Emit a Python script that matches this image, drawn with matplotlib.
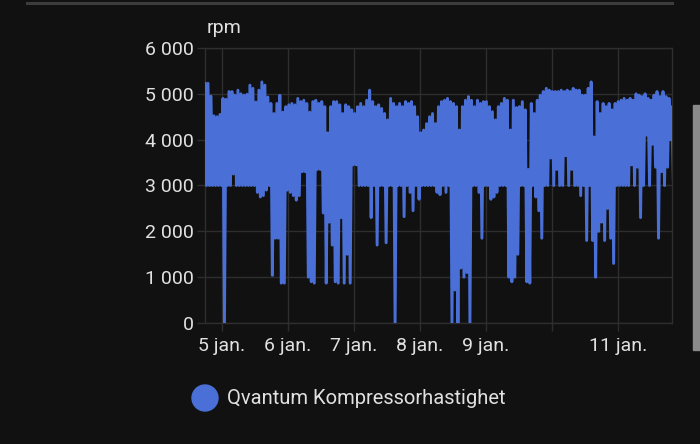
import numpy as np
import matplotlib
matplotlib.use("Agg")
import matplotlib.pyplot as plt
from matplotlib.patches import Ellipse, Rectangle
from matplotlib.lines import Line2D

# compressor speed (rpm); one high/low pair per sample
rpm_high = [
    5230, 5230, 4950, 4520, 4500, 4550, 4900, 4880, 5050, 5050, 4970, 5080, 5000, 4970, 4990, 5190,
    5120, 4820, 5080, 5260, 5190, 4930, 4790, 4570, 4790, 4970, 4600, 4720, 4760, 4790, 4760,
    4900, 4830, 4860, 4790, 4600, 4830, 4860, 4790, 4830, 4720, 4150, 4720, 4830, 4830, 4760, 4570,
    4760, 4720, 4650, 4570, 4720, 4790, 4720, 4860, 5080, 4830, 4720, 4760, 4680, 4570, 4430,
    4900, 4790, 4720, 4790, 4720, 4830, 4790, 4830, 4720, 4500, 4150, 4210, 4350, 4500, 4570, 4350,
    4720, 4830, 4860, 4900, 4830, 4790, 4720, 4210, 4720, 4860, 4940, 4860, 4720, 4860, 4790,
    4830, 4830, 4720, 4610, 4430, 4720, 4790, 4900, 4860, 4210, 4860, 4700, 4720, 4830, 4650, 3350,
    4790, 4570, 4860, 4970, 5050, 5120, 5080, 5050, 5050, 5050, 5080, 5050, 5080, 5050, 5120,
    5080, 5080, 4970, 4970, 5120, 5260, 4060, 4830, 4570, 4790, 4720, 4790, 4650, 4790, 4830, 4860,
    4900, 4860, 4900, 4860, 5000, 4970, 4940, 5000, 4900, 4860, 4970, 5050, 4940, 5050, 4940, 4900,
    4720,
]
rpm_low = [
    3000, 3000, 3000, 3000, 3000, 3000, 0, 3000, 3000, 3250, 3000, 3000, 3000, 3000, 3000, 3000,
    3000, 2850, 2750, 2780, 2900, 3000, 1040, 1850, 1850, 870, 870, 2900, 2850, 2780, 2680,
    2780, 3300, 3300, 1000, 900, 870, 3350, 3350, 2400, 870, 2200, 1700, 900, 870, 2300, 870,
    1500, 870, 3450, 3450, 3000, 3000, 3000, 3000, 2300, 3000, 1700, 3000, 3000, 1750, 3000,
    3000, 0, 3000, 3000, 2320, 3000, 2850, 2450, 3000, 2700, 3000, 3000, 3000, 3000, 3000, 2850,
    2800, 3000, 2850, 3000, 0, 720, 0, 1200, 1000, 1100, 0, 3000, 3000, 2850, 1850,
    3000, 3000, 2700, 2750, 2850, 3000, 3000, 3000, 1000, 900, 1000, 1500, 3000, 3000, 900, 870,
    3000, 2750, 2450, 1850, 3000, 3000, 3600, 3000, 3350, 3000, 3000, 3650, 3000, 3350, 3000,
    3000, 2780, 3000, 1800, 3000, 1800, 1000, 2000, 2200, 1800, 2500, 1850, 1300, 3000, 3000, 3000,
    3000, 3000, 3450, 3000, 3400, 2300, 3000, 4100, 3000, 3900, 3400, 1850, 3300, 3000, 3400, 4000,
    3000,
]
day_labels = ["5 jan.", "6 jan.", "7 jan.", "8 jan.", "9 jan.", "", "11 jan."]
y_ticks = [0, 1000, 2000, 3000, 4000, 5000, 6000]
series_name = "Qvantum Kompressorhastighet"
unit = "rpm"

BG = "#111111"
GRID = "#2e2e2e"
TXT = "#e1e1e1"
BLUE = "#4a6fd6"

plt.rcParams["font.family"] = ["Roboto", "DejaVu Sans"]

# samples are evenly spaced in time, days counted from 5 jan. 00:00
t0, t1 = -0.2576, 6.818
t = np.linspace(t0, t1, len(rpm_high))
step = t[1] - t[0]
times = np.empty(2 * len(t))
vals = np.empty(2 * len(t))
times[0::2] = t
times[1::2] = t + step / 2
vals[0::2] = rpm_high
vals[1::2] = rpm_low

fig = plt.figure(figsize=(7, 4.44), dpi=100, facecolor=BG)
ax = fig.add_axes([205 / 700, 121 / 444, 467 / 700, 275 / 444])
ax.set_facecolor(BG)

ax.plot(times, vals, color=BLUE, lw=2.1, solid_joinstyle="round", zorder=3)

ax.set_xlim(t0, t1)
ax.set_ylim(0, 6000)
ax.set_yticks(y_ticks)
ax.set_yticklabels([f"{v:,}".replace(",", " ") for v in y_ticks])
ax.set_xticks(range(len(day_labels)))
ax.set_xticklabels(day_labels)

ax.grid(True, color=GRID, lw=1)
for s in ax.spines.values():
    s.set_color(GRID)
    s.set_linewidth(1)
ax.tick_params(colors=GRID, labelcolor=TXT, labelsize=14, length=6, width=1)
ax.tick_params(axis="y", pad=2)
ax.tick_params(axis="x", pad=4)

fig.text(207 / 700, 1 - 28 / 444, unit, color=TXT, fontsize=14, ha="left", va="center")

# legend
fig.add_artist(Ellipse((205 / 700, 1 - 398 / 444), 26 / 700, 26 / 444,
                       transform=fig.transFigure, color=BLUE))
fig.text(227 / 700, 1 - 398 / 444, series_name, color=TXT, fontsize=14.5,
         ha="left", va="center")

# card edge on top and scrollbar on the right
fig.add_artist(Line2D([27 / 700, 672 / 700], [1 - 3 / 444] * 2, color="#3c3c3c",
                      lw=2.2, transform=fig.transFigure))
fig.add_artist(Rectangle((693 / 700, 1 - 350 / 444), 7 / 700, 245 / 444,
                         transform=fig.transFigure, color="#8a8a8a"))

fig.savefig("out.png", dpi=100, facecolor=BG)
